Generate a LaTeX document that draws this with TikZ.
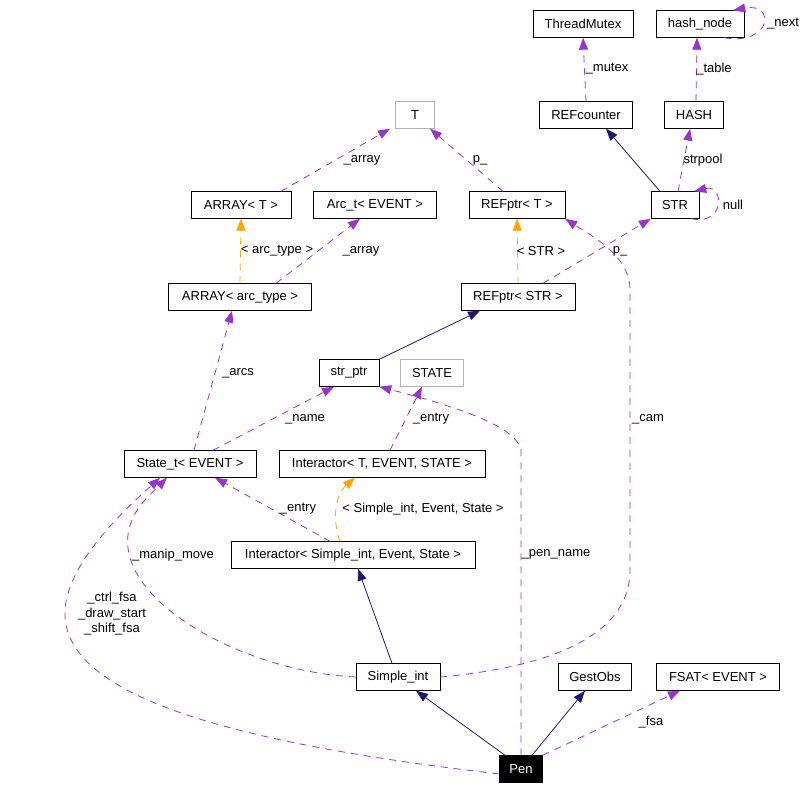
\documentclass[tikz,border=0pt]{standalone}
\usepackage{fontspec}
\setmainfont{Liberation Sans}
\usetikzlibrary{arrows.meta}
\definecolor{usecol}{HTML}{9A32CD}
\definecolor{inhcol}{HTML}{191970}
\definecolor{tplcol}{HTML}{FFA500}

\begin{document}
\begin{tikzpicture}[x=1pt,y=-1pt,font=\fontsize{13}{15.5}\selectfont,
		cls/.style={draw,fill=white,minimum height=27,inner sep=0},
		ext/.style={cls,draw=black!30},
		lbl/.style={inner sep=1pt,align=center},
		use/.style={usecol,line width=0.8,dash pattern=on 7pt off 6pt,-{Triangle[length=12,width=9]}},
		inh/.style={inhcol,line width=0.8,-{Triangle[length=12,width=9]}},
		tpl/.style={tplcol,line width=0.8,dash pattern=on 7pt off 6pt,-{Triangle[length=12,width=9]}}]
		\useasboundingbox (0,0) rectangle (808,787);
		% classes
		\node[cls,minimum width=100] (tmutex) at (583,24)  {ThreadMutex};
		\node[cls,minimum width=88]  (hashn)  at (700,24)  {hash\_node};
		\node[ext,minimum width=39]  (T)      at (415,115) {T};
		\node[cls,minimum width=93]  (refc)   at (586,115) {REFcounter};
		\node[cls,minimum width=59]  (hash)   at (694,115) {HASH};
		\node[cls,minimum width=100] (arrT)   at (241,205) {ARRAY< T >};
		\node[cls,minimum width=123] (arc)    at (375,205) {Arc\_t< EVENT >};
		\node[cls,minimum width=96]  (refT)   at (517,205) {REFptr< T >};
		\node[cls,minimum width=48]  (str)    at (675,205) {STR};
		\node[cls,minimum width=143] (arrA)   at (240,297) {ARRAY< arc\_type >};
		\node[cls,minimum width=114] (refS)   at (518,297) {REFptr< STR >};
		\node[cls,minimum width=60]  (strp)   at (349,373) {str\_ptr};
		\node[ext,minimum width=63]  (stt)    at (432,373) {STATE};
		\node[cls,minimum width=132] (state)  at (190,464) {State\_t< EVENT >};
		\node[cls,minimum width=206] (intT)   at (382,464) {Interactor< T, EVENT, STATE >};
		\node[cls,minimum width=244] (intS)   at (353,555) {Interactor< Simple\_int, Event, State >};
		\node[cls,minimum width=84]  (simple) at (398,677) {Simple\_int};
		\node[cls,minimum width=73]  (gest)   at (595,677) {GestObs};
		\node[cls,minimum width=123] (fsat)   at (718,677) {FSAT< EVENT >};
		\node[cls,minimum width=43,fill=black,text=white] (pen) at (521,769) {Pen};
		% links
		\draw[use] (refc.north) -- (tmutex.south);
		\draw[use] ([xshift=2]hash.north) -- ([xshift=-3]hashn.south);
		\draw[use] ([xshift=-20]hashn.south east) .. controls (772,46) and (776,2) .. ([xshift=-11]hashn.north east);
		\draw[inh] ([xshift=-15]str.north) -- ([xshift=20]refc.south);
		\draw[use] ([xshift=3]str.north) -- ([xshift=-4]hash.south);
		\draw[use] ([xshift=-8]str.south east) .. controls (726,226) and (724,184) .. ([xshift=-5]str.north east);
		\draw[use] ([xshift=-14]refT.north) -- ([xshift=15]T.south);
		\draw[use] ([xshift=40]arrT.north) -- ([xshift=-25]T.south);
		\draw[tpl] (arrA.north) -- (arrT.south);
		\draw[use] ([xshift=36]arrA.north) -- ([xshift=-15]arc.south);
		\draw[tpl] (refS.north) -- (refT.south);
		\draw[use] ([xshift=25]refS.north) -- (str.south west);
		\draw[inh] (strp.north east) -- ([xshift=-38]refS.south);
		\draw[use] ([xshift=4]state.north) -- ([xshift=-8]arrA.south);
		\draw[use] ([xshift=23]state.north) -- ([xshift=-15]strp.south);
		\draw[use] ([xshift=8]intT.north) -- ([xshift=-10]stt.south);
		\draw[use] (pen.north) -- (521,450) .. controls (516,425) and (450,405) .. (strp.south east);
		\draw[use] (simple.east) .. controls (540,668) and (630,640) .. (630,570) -- (630,290)
			.. controls (630,255) and (590,235) .. (refT.south east);
		\draw[use] ([xshift=-23]intS.north) -- ([xshift=25]state.south);
		\draw[tpl] ([xshift=-13]intS.north) .. controls (332,520) and (335,495) .. ([xshift=-27]intT.south);
		\draw[inh] ([xshift=-6]simple.north) -- ([xshift=5]intS.south);
		\draw[use] (simple.west) .. controls (250,672) and (135,610) .. (128,548)
			.. controls (124,515) and (150,495) .. ([xshift=-23]state.south);
		\draw[use] ([yshift=-5]pen.west) .. controls (250,745) and (60,700) .. (65,610)
			.. controls (68,560) and (130,505) .. ([xshift=-30]state.south);
		\draw[inh] ([xshift=-16]pen.north) -- ([xshift=18]simple.south);
		\draw[inh] ([xshift=11]pen.north) -- ([xshift=-10]gest.south);
		\draw[use] (pen.north east) -- ([xshift=-38]fsat.south);
		% labels
		\node[lbl] (lmutex) at (607,69)  {\_mutex};
		\node[lbl] (ltable) at (714,69)  {\_table};
		\node[lbl] (lnext)  at (783,24)  {\_next};
		\node[lbl] (lpool)  at (703,160) {strpool};
		\node[lbl] (lnull)  at (733,205) {null};
		\node[lbl] (lpT)    at (480,160) {p\_};
		\node[lbl] (larrT)  at (362,160) {\_array};
		\node[lbl] (larct)  at (277,251) {< arc\_type >};
		\node[lbl] (larc)   at (361,251) {\_array};
		\node[lbl] (lstr)   at (541,251) {< STR >};
		\node[lbl] (lpS)    at (620,251) {p\_};
		\node[lbl] (larcs)  at (238,373) {\_arcs};
		\node[lbl] (lname)  at (305,419) {\_name};
		\node[lbl] (lentT)  at (431,419) {\_entry};
		\node[lbl] (lcam)   at (648,419) {\_cam};
		\node[lbl] (lentS)  at (298,509) {\_entry};
		\node[lbl] (lsimp)  at (423,509) {< Simple\_int, Event, State >};
		\node[lbl] (lmanip) at (173,555) {\_manip\_move};
		\node[lbl] (lpen)   at (556,554) {\_pen\_name};
		\node[lbl] (lctrl)  at (112,614) {\_ctrl\_fsa\\\_draw\_start\\\_shift\_fsa};
		\node[lbl] (lfsa)   at (651,722) {\_fsa};
	\end{tikzpicture}
\end{document}
